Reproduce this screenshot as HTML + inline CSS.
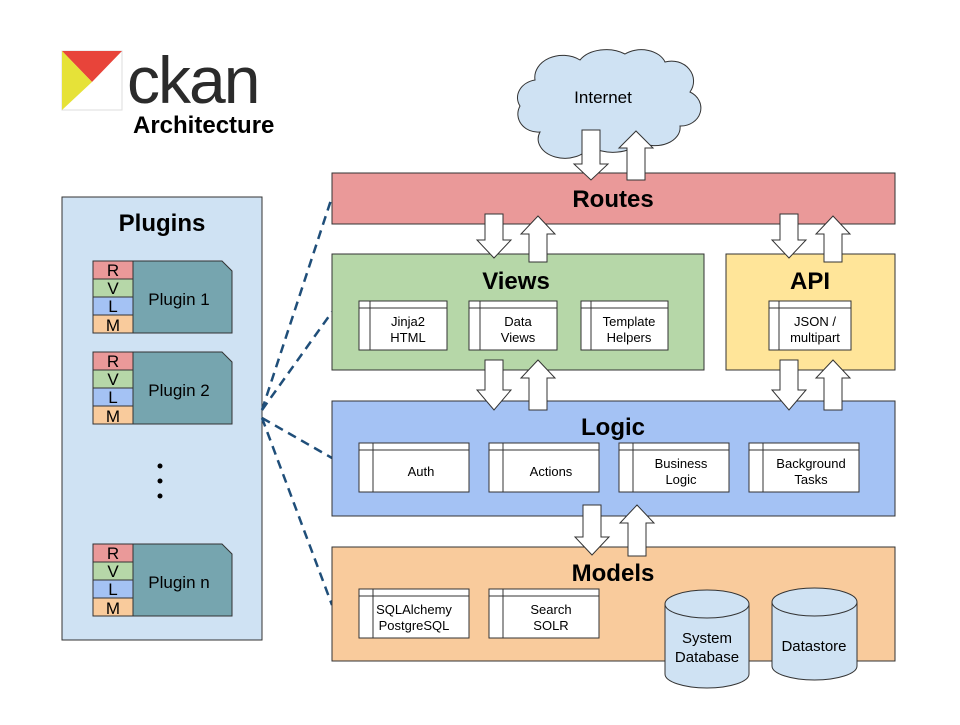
<!DOCTYPE html>
<html><head><meta charset="utf-8"><style>
html,body{margin:0;padding:0;background:#fff;}
svg text{font-family:"Liberation Sans",Arial,sans-serif;}
</style></head><body>
<svg width="960" height="720" viewBox="0 0 960 720" xmlns="http://www.w3.org/2000/svg">
<rect width="960" height="720" fill="#fff"/>
<!-- logo -->
<rect x="62" y="51" width="60" height="59" fill="#fff" stroke="#ddd"/>
<polygon points="62,51 122,51 92,82" fill="#e8443a"/>
<polygon points="62,51 92,82 62,110" fill="#e6e238"/>
<text x="127" y="103" font-size="66" fill="#2b2b2b" letter-spacing="-2">ckan</text>
<text x="133" y="133" font-size="24" font-weight="bold" fill="#000">Architecture</text>

<!-- plugins panel -->
<rect x="62" y="197" width="200" height="443" fill="#cfe2f3" stroke="#333" stroke-width="1"/>
<text x="162" y="231" font-size="24" font-weight="bold" text-anchor="middle">Plugins</text>
<g id="p1">
<rect x="93" y="261" width="40" height="18" fill="#ea9999" stroke="#333"/>
<rect x="93" y="279" width="40" height="18" fill="#b6d7a8" stroke="#333"/>
<rect x="93" y="297" width="40" height="18" fill="#a4c2f4" stroke="#333"/>
<rect x="93" y="315" width="40" height="18" fill="#f9cb9c" stroke="#333"/>
<polygon points="133,261 222,261 232,271 232,333 133,333" fill="#76a5af" stroke="#333"/>
<text x="113" y="276" font-size="17" text-anchor="middle">R</text>
<text x="113" y="294" font-size="17" text-anchor="middle">V</text>
<text x="113" y="312" font-size="17" text-anchor="middle">L</text>
<text x="113" y="331" font-size="17" text-anchor="middle">M</text>
<text x="179" y="305" font-size="17" text-anchor="middle">Plugin 1</text>
</g>
<g transform="translate(0,91)">
<rect x="93" y="261" width="40" height="18" fill="#ea9999" stroke="#333"/>
<rect x="93" y="279" width="40" height="18" fill="#b6d7a8" stroke="#333"/>
<rect x="93" y="297" width="40" height="18" fill="#a4c2f4" stroke="#333"/>
<rect x="93" y="315" width="40" height="18" fill="#f9cb9c" stroke="#333"/>
<polygon points="133,261 222,261 232,271 232,333 133,333" fill="#76a5af" stroke="#333"/>
<text x="113" y="276" font-size="17" text-anchor="middle">R</text>
<text x="113" y="294" font-size="17" text-anchor="middle">V</text>
<text x="113" y="312" font-size="17" text-anchor="middle">L</text>
<text x="113" y="331" font-size="17" text-anchor="middle">M</text>
<text x="179" y="305" font-size="17" text-anchor="middle">Plugin 2</text>
</g>
<g transform="translate(0,283)">
<rect x="93" y="261" width="40" height="18" fill="#ea9999" stroke="#333"/>
<rect x="93" y="279" width="40" height="18" fill="#b6d7a8" stroke="#333"/>
<rect x="93" y="297" width="40" height="18" fill="#a4c2f4" stroke="#333"/>
<rect x="93" y="315" width="40" height="18" fill="#f9cb9c" stroke="#333"/>
<polygon points="133,261 222,261 232,271 232,333 133,333" fill="#76a5af" stroke="#333"/>
<text x="113" y="276" font-size="17" text-anchor="middle">R</text>
<text x="113" y="294" font-size="17" text-anchor="middle">V</text>
<text x="113" y="312" font-size="17" text-anchor="middle">L</text>
<text x="113" y="331" font-size="17" text-anchor="middle">M</text>
<text x="179" y="305" font-size="17" text-anchor="middle">Plugin n</text>
</g>
<circle cx="160" cy="466" r="2.5" fill="#000"/>
<circle cx="160" cy="481" r="2.5" fill="#000"/>
<circle cx="160" cy="496" r="2.5" fill="#000"/>

<!-- dashed connectors -->
<g stroke="#1f4e79" stroke-width="2.5" stroke-dasharray="9,6" fill="none">
<line x1="262" y1="410" x2="332" y2="197"/>
<line x1="262" y1="410" x2="332" y2="312"/>
<line x1="262" y1="418" x2="332" y2="458"/>
<line x1="262" y1="418" x2="332" y2="605"/>
</g>

<!-- cloud -->
<path d="M540,132 A20 18 0 0 1 520,106 A22 18 0 0 1 535,80 A28 22 0 0 1 580,60 A30 20 0 0 1 625,54 A25 18 0 0 1 665,62 A22 20 0 0 1 690,92 A20 18 0 0 1 680,126 A25 18 0 0 1 640,142 A30 18 0 0 1 590,146 A25 18 0 0 1 540,132 Z" fill="#cfe2f3" stroke="#333"/>
<text x="603" y="103" font-size="17" text-anchor="middle">Internet</text>

<!-- layers -->
<rect x="332" y="173" width="563" height="51" fill="#ea9999" stroke="#333"/>
<text x="613" y="207" font-size="24" font-weight="bold" text-anchor="middle">Routes</text>

<rect x="332" y="254" width="372" height="116" fill="#b6d7a8" stroke="#333"/>
<text x="516" y="289" font-size="24" font-weight="bold" text-anchor="middle">Views</text>
<rect x="726" y="254" width="169" height="116" fill="#ffe599" stroke="#333"/>
<text x="810" y="289" font-size="24" font-weight="bold" text-anchor="middle">API</text>

<rect x="332" y="401" width="563" height="115" fill="#a4c2f4" stroke="#333"/>
<text x="613" y="435" font-size="24" font-weight="bold" text-anchor="middle">Logic</text>

<rect x="332" y="547" width="563" height="114" fill="#f9cb9c" stroke="#333"/>
<text x="613" y="581" font-size="24" font-weight="bold" text-anchor="middle">Models</text>

<!-- inner boxes -->
<g fill="#fff" stroke="#333">
<rect x="359" y="301" width="88" height="49"/><rect x="469" y="301" width="88" height="49"/><rect x="581" y="301" width="87" height="49"/>
<rect x="769" y="301" width="82" height="49"/>
<rect x="359" y="443" width="110" height="49"/><rect x="489" y="443" width="110" height="49"/><rect x="619" y="443" width="110" height="49"/><rect x="749" y="443" width="110" height="49"/>
<rect x="359" y="589" width="110" height="49"/><rect x="489" y="589" width="110" height="49"/>
</g>
<g stroke="#333" fill="none">
<path d="M359,308H447M370,301V350"/><path d="M469,308H557M480,301V350"/><path d="M581,308H668M591,301V350"/>
<path d="M769,308H851M779,301V350"/>
<path d="M359,450H469M373,443V492"/><path d="M489,450H599M503,443V492"/><path d="M619,450H729M633,443V492"/><path d="M749,450H859M763,443V492"/>
<path d="M359,596H469M373,589V638"/><path d="M489,596H599M503,589V638"/>
</g>
<g font-size="13" text-anchor="middle" fill="#000">
<text x="408" y="326">Jinja2</text><text x="408" y="342">HTML</text>
<text x="518" y="326">Data</text><text x="518" y="342">Views</text>
<text x="629" y="326">Template</text><text x="629" y="342">Helpers</text>
<text x="815" y="326">JSON /</text><text x="815" y="342">multipart</text>
<text x="421" y="476">Auth</text>
<text x="551" y="476">Actions</text>
<text x="681" y="468">Business</text><text x="681" y="484">Logic</text>
<text x="811" y="468">Background</text><text x="811" y="484">Tasks</text>
<text x="414" y="614">SQLAlchemy</text><text x="414" y="630">PostgreSQL</text>
<text x="551" y="614">Search</text><text x="551" y="630">SOLR</text>
</g>

<!-- cylinders -->
<g fill="#cfe2f3" stroke="#333">
<path d="M665,604 V674 A42 14 0 0 0 749,674 V604"/>
<ellipse cx="707" cy="604" rx="42" ry="14"/>
<path d="M772,602 V666 A42.5 14 0 0 0 857,666 V602"/>
<ellipse cx="814.5" cy="602" rx="42.5" ry="14"/>
</g>
<text x="707" y="643" font-size="15" text-anchor="middle">System</text>
<text x="707" y="662" font-size="15" text-anchor="middle">Database</text>
<text x="814" y="651" font-size="15" text-anchor="middle">Datastore</text>

<!-- arrows -->
<g fill="#fff" stroke="#333">
<polygon points="582,130 600,130 600,164 608,164 591,180 574,164 582,164"/>
<polygon points="627,180 645,180 645,148 653,148 636,131 619,148 627,148"/>
<polygon points="485,214 503,214 503,240 511,240 494,258 477,240 485,240"/>
<polygon points="529,262 547,262 547,234 555,234 538,216 521,234 529,234"/>
<polygon points="780,214 798,214 798,240 806,240 789,258 772,240 780,240"/>
<polygon points="824,262 842,262 842,234 850,234 833,216 816,234 824,234"/>
<polygon points="485,360 503,360 503,390 511,390 494,410 477,390 485,390"/>
<polygon points="529,410 547,410 547,378 555,378 538,360 521,378 529,378"/>
<polygon points="780,360 798,360 798,390 806,390 789,410 772,390 780,390"/>
<polygon points="824,410 842,410 842,378 850,378 833,360 816,378 824,378"/>
<polygon points="583,505 601,505 601,537 609,537 592,555 575,537 583,537"/>
<polygon points="628,556 646,556 646,523 654,523 637,505 620,523 628,523"/>
</g>
</svg>
</body></html>
